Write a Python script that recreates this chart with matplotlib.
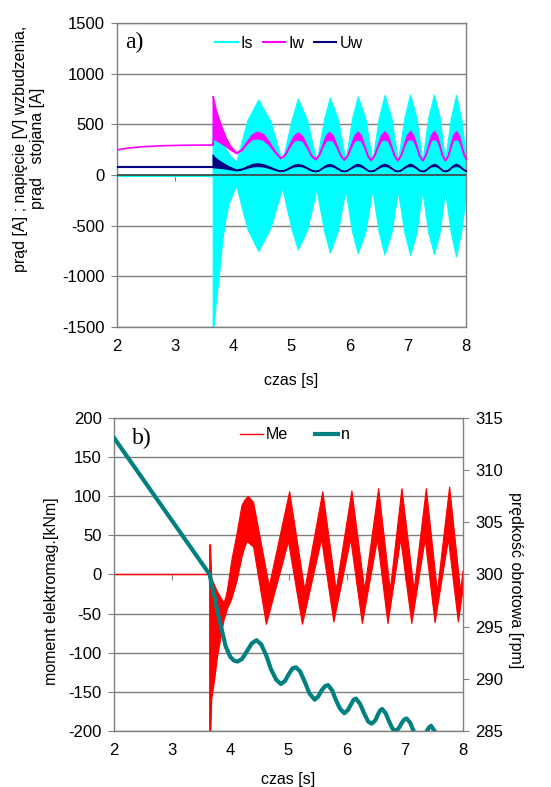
import matplotlib
matplotlib.use("Agg")
import matplotlib.pyplot as plt
from matplotlib.lines import Line2D

plt.rcParams["font.family"] = ["Liberation Sans", "DejaVu Sans"]
plt.rcParams["axes.unicode_minus"] = False

# ── a) stator current Is, field current Iw, field voltage Uw ────────────────
# values before the fault (t < 3.645 s)
iw_pre_t = [2.0, 2.15, 2.3, 2.5, 2.8, 3.2, 3.645]
iw_pre = [248, 262, 272, 281, 289, 294, 296]
uw_pre_t = [2.0, 3.645]
uw_pre = [76, 76]
is_pre_t = [2.0, 3.645]
is_pre = [-12, -12]

# Is after the fault: upper / lower envelope of the fast oscillation
is_t = [3.645, 3.66, 3.70, 3.75, 3.81, 3.87, 3.92, 4.05,
        4.24, 4.43, 4.64, 4.84,
        5.00, 5.11, 5.27, 5.43,
        5.56, 5.66, 5.80, 5.93,
        6.04, 6.14, 6.27, 6.39,
        6.50, 6.60, 6.72, 6.83,
        6.94, 7.04, 7.15, 7.25,
        7.35, 7.45, 7.55, 7.64,
        7.74, 7.83, 7.92, 8.0]
is_hi = [500, 470, 440, 390, 330, 260, 210, 130,
         540, 745, 530, 130,
         540, 755, 540, 130,
         550, 765, 550, 135,
         555, 775, 560, 135,
         560, 790, 560, 135,
         565, 795, 565, 135,
         565, 795, 565, 135,
         565, 790, 550, 170]
is_lo = [-1500, -1500, -1250, -1000, -640, -420, -280, -105,
         -530, -750, -520, -125,
         -530, -735, -540, -140,
         -550, -765, -550, -145,
         -555, -770, -560, -150,
         -560, -785, -565, -155,
         -565, -790, -565, -155,
         -565, -780, -565, -150,
         -570, -805, -550, -190]

# Iw after the fault
iw_t = [3.645, 3.655, 3.70, 3.75, 3.80, 3.87, 3.95,
        4.05, 4.14, 4.23, 4.32, 4.41, 4.51, 4.61, 4.71,
        4.81, 4.885, 4.96, 5.035, 5.11, 5.185, 5.26, 5.335,
        5.41, 5.47, 5.53, 5.59, 5.65, 5.71, 5.775, 5.84,
        5.90, 5.96, 6.02, 6.08, 6.14, 6.195, 6.25, 6.305,
        6.36, 6.42, 6.48, 6.54, 6.60, 6.655, 6.71, 6.765,
        6.82, 6.875, 6.93, 6.985, 7.04, 7.09, 7.145, 7.195,
        7.25, 7.30, 7.35, 7.40, 7.45, 7.50, 7.545, 7.59,
        7.64, 7.69, 7.735, 7.78, 7.83, 7.875, 7.92, 7.96, 8.0]
iw_hi = [780, 760, 640, 555, 470, 370, 285,
         225, 255, 330, 400, 428, 405, 330, 240,
         170, 205, 295, 385, 420, 385, 295, 200,
         158, 205, 295, 390, 425, 390, 295, 200,
         155, 200, 295, 390, 428, 390, 295, 200,
         150, 198, 295, 392, 430, 392, 295, 198,
         148, 198, 297, 395, 434, 395, 297, 198,
         148, 198, 297, 395, 434, 395, 297, 198,
         148, 198, 297, 395, 432, 395, 297, 205, 165]
iw_lo = [296, 360, 345, 330, 310, 285, 250,
         215, 245, 310, 355, 362, 350, 300, 228,
         165, 198, 275, 340, 350, 340, 275, 192,
         154, 196, 275, 340, 348, 340, 275, 192,
         150, 192, 275, 340, 350, 340, 275, 190,
         146, 190, 275, 342, 352, 342, 275, 190,
         144, 190, 277, 345, 355, 345, 277, 190,
         144, 190, 277, 345, 356, 345, 277, 190,
         144, 190, 277, 345, 355, 345, 277, 198, 160]

# Uw after the fault
uw_t = [3.645, 3.66, 3.72, 3.80, 3.90,
        4.05, 4.14, 4.23, 4.32, 4.41, 4.51, 4.61, 4.71,
        4.81, 4.885, 4.96, 5.035, 5.11, 5.185, 5.26, 5.335,
        5.41, 5.47, 5.53, 5.59, 5.65, 5.71, 5.775, 5.84,
        5.90, 5.96, 6.02, 6.08, 6.14, 6.195, 6.25, 6.305,
        6.36, 6.42, 6.48, 6.54, 6.60, 6.655, 6.71, 6.765,
        6.82, 6.875, 6.93, 6.985, 7.04, 7.09, 7.145, 7.195,
        7.25, 7.30, 7.35, 7.40, 7.45, 7.50, 7.545, 7.59,
        7.64, 7.69, 7.735, 7.78, 7.83, 7.875, 7.92, 7.96, 8.0]
uw_hi = [200, 185, 155, 125, 90,
         52, 62, 85, 106, 115, 106, 85, 60,
         42, 52, 75, 98, 108, 98, 75, 52,
         40, 50, 74, 98, 108, 98, 74, 50,
         40, 50, 74, 98, 109, 98, 74, 50,
         40, 50, 74, 98, 110, 98, 74, 50,
         40, 50, 74, 98, 110, 98, 74, 50,
         40, 50, 74, 98, 110, 98, 74, 50,
         40, 50, 74, 98, 110, 98, 74, 55, 45]
uw_lo = [76, 78, 74, 70, 62,
         46, 55, 72, 86, 89, 86, 72, 52,
         38, 47, 68, 86, 90, 86, 68, 47,
         37, 47, 68, 86, 90, 86, 68, 47,
         37, 47, 68, 86, 90, 86, 68, 47,
         37, 47, 68, 86, 90, 86, 68, 47,
         37, 47, 68, 86, 90, 86, 68, 47,
         37, 47, 68, 86, 90, 86, 68, 47,
         37, 47, 68, 86, 90, 86, 68, 50, 40]

# ── b) electromagnetic torque Me [kNm] and speed n [rpm] ────────────────────
me_pre_t = [2.0, 3.645]
me_pre = [0, 0]
# upper and lower edge of the Me band (each edge has its own time points)
me_hi_t = [3.645, 3.66, 3.68, 3.73, 3.78, 3.84, 3.89, 3.92, 3.95, 4.00, 4.03,
           4.11, 4.20, 4.25, 4.31, 4.40,
           4.67, 5.02, 5.28, 5.59, 5.82, 6.09, 6.31, 6.55,
           6.75, 6.95, 7.16, 7.37, 7.56, 7.77, 7.96, 8.0]
me_hi = [38, 38, -5, -14, -22, -30, -36, -30, -20, 5, 20,
         50, 88, 95, 100, 92,
         -15, 106, -20, 106, -20, 107, -20, 110,
         -20, 110, -20, 110, -22, 112, -22, 5]
me_lo_t = [3.645, 3.66, 3.68, 3.73, 3.78, 3.84, 3.89, 3.92, 3.95, 4.00, 4.03,
           4.11, 4.20, 4.25, 4.29, 4.40,
           4.62, 5.00, 5.24, 5.57, 5.78, 6.07, 6.27, 6.53,
           6.71, 6.93, 7.12, 7.35, 7.52, 7.75, 7.92, 8.0]
me_lo = [-215, -215, -160, -135, -105, -80, -59, -52, -44, -36, -30,
         -10, 22, 35, 42, 35,
         -64, 42, -64, 45, -61, 45, -63, 45,
         -63, 45, -63, 45, -62, 45, -61, -20]

n_t = [2.0, 3.645, 3.68, 3.73, 3.78, 3.84, 3.92, 4.00, 4.06, 4.12,
       4.20, 4.28, 4.37, 4.45, 4.53, 4.62, 4.70, 4.79, 4.87,
       4.94, 5.01, 5.07, 5.13, 5.20, 5.28, 5.36, 5.45,
       5.51, 5.57, 5.63, 5.68, 5.75, 5.82, 5.89, 5.96,
       6.02, 6.08, 6.12, 6.16, 6.23, 6.30, 6.37, 6.43,
       6.49, 6.54, 6.58, 6.61, 6.67, 6.73, 6.79, 6.85,
       6.90, 6.95, 6.99, 7.03, 7.09, 7.15, 7.21, 7.27,
       7.32, 7.37, 7.41, 7.45, 7.51, 7.57, 7.63, 7.68,
       7.73, 7.78, 7.82, 7.86, 7.92, 8.0]
n_rpm = [313.1, 300.0, 299.0, 297.8, 296.4, 295.0, 293.1, 292.1, 291.75, 291.65,
         291.9, 292.6, 293.4, 293.7, 293.3, 292.2, 290.9, 289.9, 289.5,
         289.8, 290.5, 291.0, 291.1, 290.7, 289.7, 288.6, 288.0,
         288.3, 288.9, 289.3, 289.4, 288.9, 287.9, 287.1, 286.7,
         287.0, 287.6, 288.0, 288.1, 287.6, 286.7, 285.9, 285.7,
         286.0, 286.6, 287.0, 287.1, 286.7, 285.9, 285.2, 285.0,
         285.3, 285.8, 286.1, 286.2, 285.8, 285.0, 284.3, 284.0,
         284.3, 284.9, 285.3, 285.5, 285.0, 284.2, 283.5, 283.2,
         283.5, 284.1, 284.5, 284.6, 284.1, 283.0]

x_ticks = [2, 3, 4, 5, 6, 7, 8]
GRID = "#808080"
FS = 12

fig = plt.figure(figsize=(5.51, 7.87), dpi=100)
ax1 = fig.add_axes([0.2123, 0.5845, 0.6334, 0.3863])
ax2 = fig.add_axes([0.2069, 0.0712, 0.6334, 0.3977])


def style_axes(ax):
    ax.set_xlim(2, 8)
    ax.set_xticks(x_ticks)
    for s in ax.spines.values():
        s.set_color(GRID)
        s.set_linewidth(1.0)
    ax.yaxis.grid(True, color=GRID, lw=1.0)
    ax.set_axisbelow(True)
    ax.tick_params(axis="y", direction="out", length=4, color=GRID, labelsize=FS, pad=5)
    ax.tick_params(axis="x", length=0, labelsize=FS, pad=9)
    # small tick marks where the time axis crosses zero
    sec = ax.secondary_xaxis(0.5)
    sec.set_xticks(x_ticks)
    sec.tick_params(direction="in", length=4, color=GRID, labeltop=False, labelbottom=False)
    for s in sec.spines.values():
        s.set_visible(False)
    sec.set_zorder(0)


# ── top panel ───────────────────────────────────────────────────────────────
style_axes(ax1)
ax1.set_ylim(-1500, 1500)
ax1.set_yticks(range(-1500, 1501, 500))
ax1.plot(is_pre_t, is_pre, color="#00FFFF", lw=1.5, zorder=2)
ax1.fill_between(is_t, is_lo, is_hi, color="#00FFFF", lw=0.8, zorder=2)
ax1.axhline(0, color="#404040", lw=1.2, zorder=4)
ax1.plot(iw_pre_t, iw_pre, color="#FF00FF", lw=1.2, zorder=5)
ax1.fill_between(iw_t, iw_lo, iw_hi, color="#FF00FF", lw=1.0, zorder=5)
ax1.plot(uw_pre_t, uw_pre, color="#000080", lw=1.5, zorder=6)
ax1.fill_between(uw_t, uw_lo, uw_hi, color="#000080", lw=1.0, zorder=6)

ax1.text(0.023, 0.9375, "a)", transform=ax1.transAxes, fontsize=17,
         family="Liberation Serif", ha="left", va="center")
h1 = [Line2D([], [], color="#00FFFF", lw=1.5),
      Line2D([], [], color="#FF00FF", lw=1.5),
      Line2D([], [], color="#000080", lw=1.5)]
ax1.legend(h1, ["Is", "Iw", "Uw"], loc="center", bbox_to_anchor=(0.493, 0.934),
           ncol=3, frameon=False, fontsize=11.5, handlelength=1.4,
           handletextpad=0.2, columnspacing=0.6, borderpad=0)

fig.text(0.0526, 0.811, "prąd [A] ; napięcie [V] wzbudzenia,\nprąd   stojana [A]",
         rotation=90, ha="center", va="center", multialignment="center",
         fontsize=11.5, linespacing=1.1)
fig.text(0.528, 0.516, "czas [s]", ha="center", va="center", fontsize=11.5)

# ── bottom panel ────────────────────────────────────────────────────────────
style_axes(ax2)
ax2.set_ylim(-200, 200)
ax2.set_yticks(range(-200, 201, 50))
ax2.plot(me_pre_t, me_pre, color="#FF0000", lw=1.0, zorder=2)
ax2.fill(me_hi_t + me_lo_t[::-1], me_hi + me_lo[::-1],
         color="#FF0000", lw=0.8, zorder=2)

ax2r = ax2.twinx()
ax2r.set_ylim(285, 315)
ax2r.set_yticks(range(285, 316, 5))
for s in ax2r.spines.values():
    s.set_visible(False)
ax2r.tick_params(axis="y", direction="out", length=4, color=GRID, labelsize=FS, pad=5)
ax2r.plot(n_t, n_rpm, color="#008080", lw=3.0, zorder=3)

ax2.text(0.052, 0.936, "b)", transform=ax2.transAxes, fontsize=17,
         family="Liberation Serif", ha="left", va="center")
h2 = [Line2D([], [], color="#FF0000", lw=1.0),
      Line2D([], [], color="#008080", lw=3.0)]
ax2r.legend(h2, ["Me", "n"], loc="center", bbox_to_anchor=(0.519, 0.946),
            ncol=2, frameon=False, fontsize=11.5, handlelength=1.4,
            handletextpad=0.2, columnspacing=1.7, borderpad=0)

fig.text(0.094, 0.249, "moment elektromag.[kNm]", rotation=90,
         ha="center", va="center", fontsize=11.5)
fig.text(0.935, 0.263, "prędkość obrotowa [rpm]", rotation=270,
         ha="center", va="center", fontsize=11.5)
fig.text(0.523, 0.009, "czas [s]", ha="center", va="center", fontsize=11.5)

fig.savefig("out.png", dpi=100)
